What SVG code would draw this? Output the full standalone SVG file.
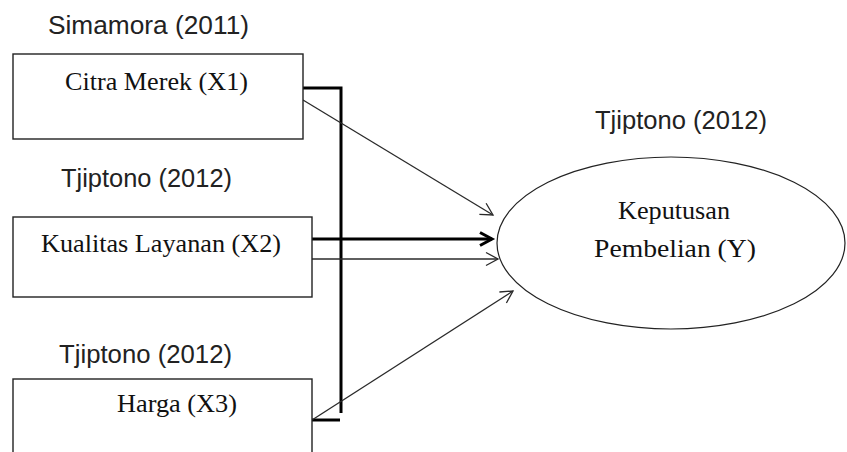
<svg xmlns="http://www.w3.org/2000/svg" width="847" height="452" viewBox="0 0 847 452">
<defs>
<style>
.box{fill:#fff;stroke:#222;stroke-width:1.4}
.ell{fill:#fff;stroke:#222;stroke-width:1.2}
.sans{font-family:"Liberation Sans",Arial,sans-serif;font-size:25px;fill:#222}
.serif{font-family:"Liberation Serif","Times New Roman",serif;font-size:25px;fill:#111}
.thin{fill:none;stroke:#2a2a2a;stroke-width:1.3}
.thick{fill:none;stroke:#000;stroke-width:3}
</style>
<marker id="aThin" markerUnits="userSpaceOnUse" markerWidth="16" markerHeight="16" refX="14" refY="8" orient="auto" overflow="visible">
<path d="M2,1.5 L14,8 L2,14.5" fill="none" stroke="#2a2a2a" stroke-width="1.3"/>
</marker>
<marker id="aThick" markerUnits="userSpaceOnUse" markerWidth="16" markerHeight="16" refX="14" refY="8" orient="auto" overflow="visible">
<path d="M2,1.5 L14,8 L2,14.5" fill="none" stroke="#000" stroke-width="3"/>
</marker>
</defs>
<rect width="847" height="452" fill="#fff"/>
<g id="connectors">
<path class="thick" d="M303,88 H341 V413"/>
<path class="thick" d="M312,420 H340"/>
<line class="thin" x1="303" y1="100" x2="493" y2="215" marker-end="url(#aThin)"/>
<line class="thick" x1="310" y1="239" x2="492" y2="239" marker-end="url(#aThick)"/>
<line class="thin" x1="310" y1="259" x2="498" y2="259" marker-end="url(#aThin)"/>
<line class="thin" x1="312" y1="420" x2="513" y2="291" marker-end="url(#aThin)"/>
</g>
<g id="x1">
<text class="sans" x="48" y="34" textLength="201" lengthAdjust="spacingAndGlyphs">Simamora (2011)</text>
<rect class="box" x="13" y="54" width="290" height="85"/>
<text class="serif" x="65" y="90" textLength="183" lengthAdjust="spacingAndGlyphs">Citra Merek (X1)</text>
</g>
<g id="x2">
<text class="sans" x="61" y="187" textLength="171" lengthAdjust="spacingAndGlyphs">Tjiptono (2012)</text>
<rect class="box" x="13" y="217" width="299" height="80"/>
<text class="serif" x="41" y="252" textLength="240" lengthAdjust="spacingAndGlyphs">Kualitas Layanan (X2)</text>
</g>
<g id="x3">
<text class="sans" x="59" y="363" textLength="173" lengthAdjust="spacingAndGlyphs">Tjiptono (2012)</text>
<rect class="box" x="13" y="379" width="299" height="90"/>
<text class="serif" x="117" y="412" textLength="120" lengthAdjust="spacingAndGlyphs">Harga (X3)</text>
</g>
<g id="y">
<text class="sans" x="595" y="129" textLength="172" lengthAdjust="spacingAndGlyphs">Tjiptono (2012)</text>
<ellipse class="ell" cx="671" cy="243" rx="174" ry="86"/>
<text class="serif" x="618" y="219" textLength="112" lengthAdjust="spacingAndGlyphs">Keputusan</text>
<text class="serif" x="594" y="257" textLength="162" lengthAdjust="spacingAndGlyphs">Pembelian (Y)</text>
</g>
</svg>
